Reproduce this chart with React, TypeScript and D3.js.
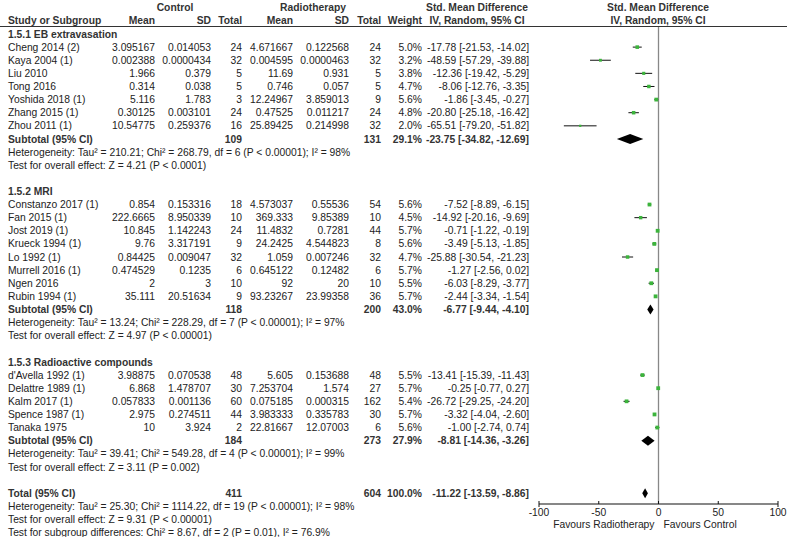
import * as d3 from 'd3';

// [study, ctrl mean, ctrl sd, ctrl n, rt mean, rt sd, rt n, weight %, smd, lo, hi]
type Study = [string, string, string, number, string, string, number, number, number, number, number];

const ebStudies: Study[] = [
  ['Cheng 2014 (2)', '3.095167', '0.014053', 24, '4.671667', '0.122568', 24, 5.0, -17.78, -21.53, -14.02],
  ['Kaya 2004 (1)', '0.002388', '0.0000434', 32, '0.004595', '0.0000463', 32, 3.2, -48.59, -57.29, -39.88],
  ['Liu 2010', '1.966', '0.379', 5, '11.69', '0.931', 5, 3.8, -12.36, -19.42, -5.29],
  ['Tong 2016', '0.314', '0.038', 5, '0.746', '0.057', 5, 4.7, -8.06, -12.76, -3.35],
  ['Yoshida 2018 (1)', '5.116', '1.783', 3, '12.24967', '3.859013', 9, 5.6, -1.86, -3.45, -0.27],
  ['Zhang 2015 (1)', '0.30125', '0.003101', 24, '0.47525', '0.011217', 24, 4.8, -20.80, -25.18, -16.42],
  ['Zhou 2011 (1)', '10.54775', '0.259376', 16, '25.89425', '0.214998', 32, 2.0, -65.51, -79.20, -51.82],
];

const mriStudies: Study[] = [
  ['Constanzo 2017 (1)', '0.854', '0.153316', 18, '4.573037', '0.55536', 54, 5.6, -7.52, -8.89, -6.15],
  ['Fan 2015 (1)', '222.6665', '8.950339', 10, '369.333', '9.85389', 10, 4.5, -14.92, -20.16, -9.69],
  ['Jost 2019 (1)', '10.845', '1.142243', 24, '11.4832', '0.7281', 44, 5.7, -0.71, -1.22, -0.19],
  ['Krueck 1994 (1)', '9.76', '3.317191', 9, '24.2425', '4.544823', 8, 5.6, -3.49, -5.13, -1.85],
  ['Lo 1992 (1)', '0.84425', '0.009047', 32, '1.059', '0.007246', 32, 4.7, -25.88, -30.54, -21.23],
  ['Murrell 2016 (1)', '0.474529', '0.1235', 6, '0.645122', '0.12482', 6, 5.7, -1.27, -2.56, 0.02],
  ['Ngen 2016', '2', '3', 10, '92', '20', 10, 5.5, -6.03, -8.29, -3.77],
  ['Rubin 1994 (1)', '35.111', '20.51634', 9, '93.23267', '23.99358', 36, 5.7, -2.44, -3.34, -1.54],
];

const radioStudies: Study[] = [
  ["d'Avella 1992 (1)", '3.98875', '0.070538', 48, '5.605', '0.153688', 48, 5.5, -13.41, -15.39, -11.43],
  ['Delattre 1989 (1)', '6.868', '1.478707', 30, '7.253704', '1.574', 27, 5.7, -0.25, -0.77, 0.27],
  ['Kalm 2017 (1)', '0.057833', '0.001136', 60, '0.075185', '0.000315', 162, 5.4, -26.72, -29.25, -24.20],
  ['Spence 1987 (1)', '2.975', '0.274511', 44, '3.983333', '0.335783', 30, 5.7, -3.32, -4.04, -2.60],
  ['Tanaka 1975', '10', '3.924', 2, '22.81667', '12.07003', 6, 5.6, -1.00, -2.74, 0.74],
];

const groupTitles = ['1.5.1 EB extravasation', '1.5.2 MRI', '1.5.3 Radioactive compounds'];
const groupStudies = [ebStudies, mriStudies, radioStudies];
// [ctrl n, rt n, weight, smd, lo, hi]
const subtotals = [
  [109, 131, 29.1, -23.75, -34.82, -12.69],
  [118, 200, 43.0, -6.77, -9.44, -4.10],
  [184, 273, 27.9, -8.81, -14.36, -3.26],
];
const heterogeneity = [
  'Heterogeneity: Tau² = 210.21; Chi² = 268.79, df = 6 (P < 0.00001); I² = 98%',
  'Heterogeneity: Tau² = 13.24; Chi² = 228.29, df = 7 (P < 0.00001); I² = 97%',
  'Heterogeneity: Tau² = 39.41; Chi² = 549.28, df = 4 (P < 0.00001); I² = 99%',
];
const overallTests = [
  'Test for overall effect: Z = 4.21 (P < 0.0001)',
  'Test for overall effect: Z = 4.97 (P < 0.00001)',
  'Test for overall effect: Z = 3.11 (P = 0.002)',
];
const total = [411, 604, 100.0, -11.22, -13.59, -8.86];
const totalNotes = [
  'Heterogeneity: Tau² = 25.30; Chi² = 1114.22, df = 19 (P < 0.00001); I² = 98%',
  'Test for overall effect: Z = 9.31 (P < 0.00001)',
  'Test for subgroup differences: Chi² = 8.67, df = 2 (P = 0.01), I² = 76.9%',
];
const axisTicks = [-100, -50, 0, 50, 100];

const W = 787;
const H = 537;
const FONT = '"Liberation Sans", Arial, sans-serif';
const GREEN = '#3cb43c';

const x = d3.scaleLinear().domain([-100, 100]).range([539, 778]);
const rowY = d3.scaleLinear().domain([0, 38]).range([34, 532.5]);

const col = { ctrlMean: 155, ctrlSd: 211, ctrlN: 242, rtMean: 293, rtSd: 349, rtN: 381, weight: 422, ci: 529 };

const fmtCi = (m: number, lo: number, hi: number) => `${m.toFixed(2)} [${lo.toFixed(2)}, ${hi.toFixed(2)}]`;

type Row =
  | { kind: 'title'; i: number; text: string }
  | { kind: 'study'; i: number; s: Study }
  | { kind: 'sub'; i: number; label: string; v: number[] }
  | { kind: 'note'; i: number; text: string };

const rows: Row[] = [];
let r = 0;
groupStudies.forEach((studies, g) => {
  rows.push({ kind: 'title', i: r++, text: groupTitles[g] });
  studies.forEach((s) => rows.push({ kind: 'study', i: r++, s }));
  rows.push({ kind: 'sub', i: r++, label: 'Subtotal (95% CI)', v: subtotals[g] });
  rows.push({ kind: 'note', i: r++, text: heterogeneity[g] });
  rows.push({ kind: 'note', i: r++, text: overallTests[g] });
  r++;
});
rows.push({ kind: 'sub', i: r++, label: 'Total (95% CI)', v: total });
totalNotes.forEach((t) => rows.push({ kind: 'note', i: r++, text: t }));

const axisY = 504;

function Diamond({ y, lo, m, hi }: { y: number; lo: number; m: number; hi: number }) {
  const h = 5;
  const path = d3.line()([
    [x(lo), y],
    [x(m), y - h],
    [x(hi), y],
    [x(m), y + h],
  ]);
  return <path d={path + 'Z'} fill="#000" />;
}

export default function App() {
  return (
    <svg
      width={W}
      height={H}
      style={{ position: 'absolute', left: 0, top: 0, background: '#fff' }}
      fontFamily={FONT}
      fontSize={10.3}
      fill="#222"
    >
      {/* column headers */}
      <g fontWeight="bold" fill="#333">
        <text x={175} y={11} textAnchor="middle">Control</text>
        <text x={313} y={11} textAnchor="middle">Radiotherapy</text>
        <text x={477} y={11} textAnchor="middle">Std. Mean Difference</text>
        <text x={658} y={11} textAnchor="middle">Std. Mean Difference</text>
        <text x={8} y={23.5}>Study or Subgroup</text>
        <text x={col.ctrlMean} y={23.5} textAnchor="end">Mean</text>
        <text x={col.ctrlSd} y={23.5} textAnchor="end">SD</text>
        <text x={col.ctrlN} y={23.5} textAnchor="end">Total</text>
        <text x={col.rtMean} y={23.5} textAnchor="end">Mean</text>
        <text x={col.rtSd} y={23.5} textAnchor="end">SD</text>
        <text x={col.rtN} y={23.5} textAnchor="end">Total</text>
        <text x={col.weight} y={23.5} textAnchor="end">Weight</text>
        <text x={477} y={23.5} textAnchor="middle">IV, Random, 95% CI</text>
        <text x={658} y={23.5} textAnchor="middle">IV, Random, 95% CI</text>
      </g>
      <line x1={0} x2={W} y1={26.5} y2={26.5} stroke="#333" strokeWidth={1} />

      {/* zero line */}
      <line x1={x(0)} x2={x(0)} y1={27} y2={axisY} stroke="#888" strokeWidth={1.3} />

      {rows.map((row, k) => {
        const y = rowY(row.i);
        const ty = y + 3.6;
        if (row.kind === 'title') {
          return (
            <text key={k} x={8} y={ty} fontWeight="bold" fill="#333">{row.text}</text>
          );
        }
        if (row.kind === 'note') {
          return (
            <text key={k} x={8} y={ty}>{row.text}</text>
          );
        }
        if (row.kind === 'sub') {
          const [cn, rn, w, m, lo, hi] = row.v;
          return (
            <g key={k}>
              <g fontWeight="bold" fill="#333">
                <text x={8} y={ty}>{row.label}</text>
                <text x={col.ctrlN} y={ty} textAnchor="end">{cn}</text>
                <text x={col.rtN} y={ty} textAnchor="end">{rn}</text>
                <text x={col.weight} y={ty} textAnchor="end">{w.toFixed(1)}%</text>
                <text x={col.ci} y={ty} textAnchor="end">{fmtCi(m, lo, hi)}</text>
              </g>
              <Diamond y={y} lo={lo} m={m} hi={hi} />
            </g>
          );
        }
        const [name, cm, csd, cn, rm, rsd, rn, w, m, lo, hi] = row.s;
        const side = 1.6 * Math.sqrt(w);
        return (
          <g key={k}>
            <text x={8} y={ty}>{name}</text>
            <text x={col.ctrlMean} y={ty} textAnchor="end">{cm}</text>
            <text x={col.ctrlSd} y={ty} textAnchor="end">{csd}</text>
            <text x={col.ctrlN} y={ty} textAnchor="end">{cn}</text>
            <text x={col.rtMean} y={ty} textAnchor="end">{rm}</text>
            <text x={col.rtSd} y={ty} textAnchor="end">{rsd}</text>
            <text x={col.rtN} y={ty} textAnchor="end">{rn}</text>
            <text x={col.weight} y={ty} textAnchor="end">{w.toFixed(1)}%</text>
            <text x={col.ci} y={ty} textAnchor="end">{fmtCi(m, lo, hi)}</text>
            <line x1={x(lo)} x2={x(hi)} y1={y} y2={y} stroke="#111" strokeWidth={1} />
            <rect x={x(m) - side / 2} y={y - side / 2} width={side} height={side} fill={GREEN} />
          </g>
        );
      })}

      {/* axis */}
      <line x1={x(-100)} x2={x(100)} y1={axisY} y2={axisY} stroke="#111" strokeWidth={1.2} />
      {axisTicks.map((t) => {
        const end = t === -100 || t === 100;
        return (
          <g key={t}>
            <line x1={x(t)} x2={x(t)} y1={axisY - 3} y2={end ? axisY + 3 : axisY} stroke="#111" strokeWidth={1} />
            <text x={x(t)} y={axisY + 12} textAnchor="middle">{t}</text>
          </g>
        );
      })}
      <text x={x(0) - 4} y={axisY + 24} textAnchor="end">Favours Radiotherapy</text>
      <text x={x(0) + 5} y={axisY + 24}>Favours Control</text>
    </svg>
  );
}
